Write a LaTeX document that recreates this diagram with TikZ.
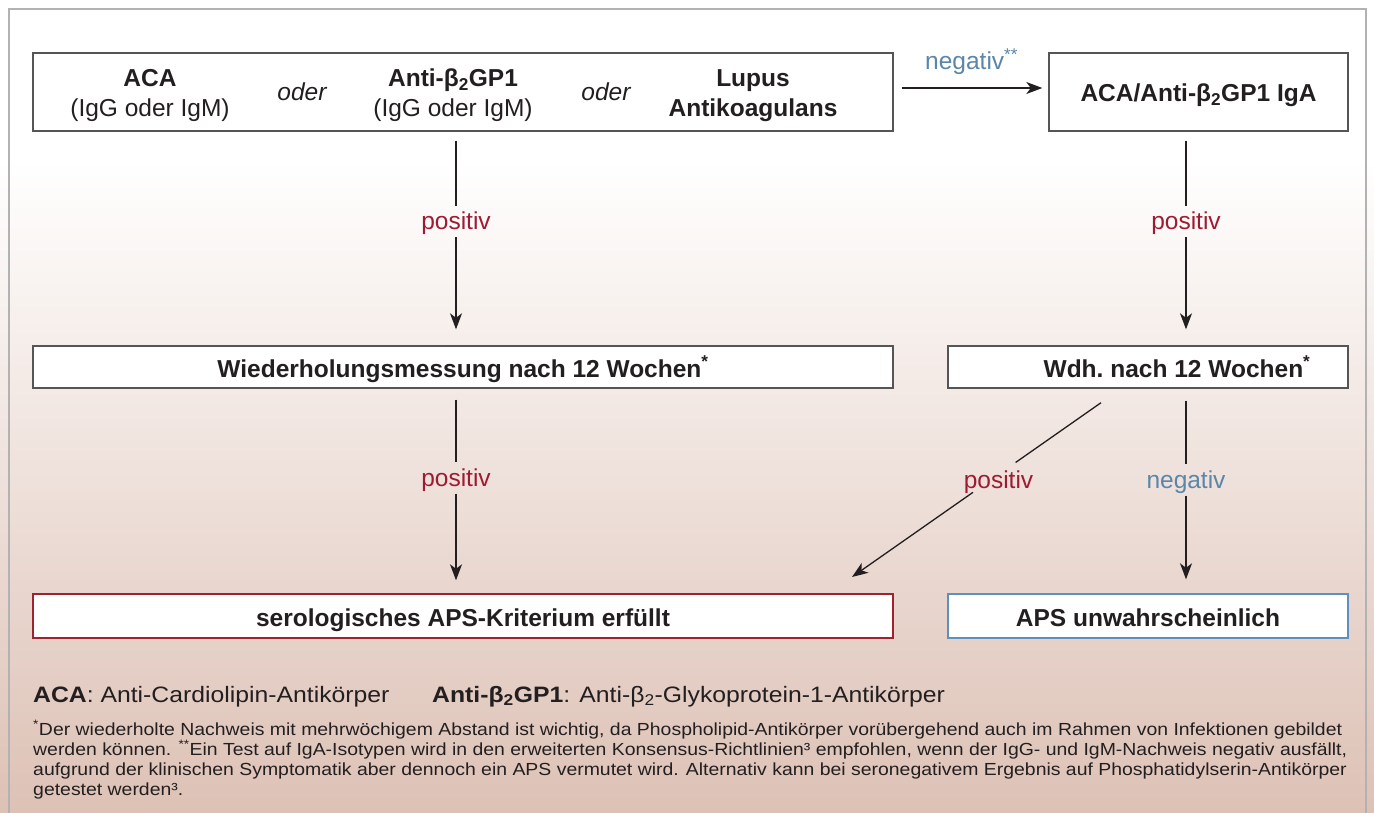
\documentclass[tikz,border=0pt]{standalone}
\usepackage{fontspec}
\setmainfont{Liberation Sans}
\newfontfamily\notefont[FakeStretch=1.11]{Liberation Sans}
\usetikzlibrary{arrows.meta,calc}
\definecolor{posred}{RGB}{158,27,50}
\definecolor{negblue}{RGB}{91,134,168}
\definecolor{boxgray}{RGB}{85,85,85}
\definecolor{framegray}{RGB}{178,178,178}
\definecolor{bgpink}{RGB}{221,193,181}
\definecolor{redborder}{RGB}{160,34,46}
\definecolor{blueborder}{RGB}{95,143,191}
\definecolor{ink}{RGB}{35,31,32}
\begin{document}
\begin{tikzpicture}[x=1pt,y=-1pt,
  every node/.style={text=ink},
  box/.style={draw=boxgray, line width=1.4pt, fill=white, inner sep=0pt,
    text height=20pt, text depth=0pt,
    font=\fontsize{24.5}{29}\selectfont\bfseries},
  boxtxt/.style={anchor=base, inner sep=0pt, font=\fontsize{24.5}{29}\selectfont},
  lab/.style={inner sep=0pt, minimum height=31pt, text height=19pt, text depth=2pt,
    font=\fontsize{24.5}{29}\selectfont},
  poslab/.style={lab, text=posred},
  neglab/.style={lab, text=negblue},
  arr/.style={-{Stealth[length=16pt,width=12pt,inset=4.5pt]}, line width=1.3pt, draw=ink},
  seg/.style={line width=2.8pt, draw=ink},
  thinseg/.style={line width=1.3pt, draw=ink},
  legend/.style={anchor=base west, inner sep=0pt, font=\notefont\fontsize{22.3}{26}\selectfont},
  note/.style={anchor=base west, inner sep=0pt, font=\notefont\fontsize{17.5}{20}\selectfont}
]
\useasboundingbox (0,0) rectangle (1374,813);
% background
\fill[white] (0,0) rectangle (1374,160);
\shade[top color=white, bottom color=bgpink] (0,160) rectangle (1374,813);
\draw[framegray, line width=2pt] (9,813) -- (9,9) -- (1366,9) -- (1366,813);

% boxes
\node[box, minimum width=860pt, minimum height=78pt] (b1) at (463,92) {};
\node[box, minimum width=299pt, minimum height=78pt] (b2) at (1198.5,92) {ACA/Anti-β\textsubscript{2}GP1 IgA};
\node[box, minimum width=860pt, minimum height=42pt] (b3) at (463,367) {Wiederholungsmessung nach 12 Wochen\textsuperscript{*}};
\node[box, minimum width=400pt, minimum height=42pt] (b4) at (1148,367) {\hspace*{58pt}Wdh.\ nach 12 Wochen\textsuperscript{*}};
\node[box, draw=redborder, minimum width=860pt, minimum height=44pt] (b5) at (463,616) {serologisches APS-Kriterium erfüllt};
\node[box, draw=blueborder, minimum width=400pt, minimum height=44pt] (b6) at (1148,616) {APS unwahrscheinlich};

% texts inside first box
\node[boxtxt, font=\fontsize{24.5}{29}\selectfont\bfseries] (t1a) at (150,87) {ACA};
\node[boxtxt] (t1b) at (150,117) {(IgG oder IgM)};
\node[boxtxt, font=\fontsize{24.5}{29}\selectfont\itshape] (o1) at (302,101) {oder};
\node[boxtxt, font=\fontsize{24.5}{29}\selectfont\bfseries] (t2a) at (453,87) {Anti-β\textsubscript{2}GP1};
\node[boxtxt] (t2b) at (453,117) {(IgG oder IgM)};
\node[boxtxt, font=\fontsize{24.5}{29}\selectfont\itshape] (o2) at (606,101) {oder};
\node[boxtxt, font=\fontsize{24.5}{29}\selectfont\bfseries] (t3a) at (753,87) {Lupus};
\node[boxtxt, font=\fontsize{24.5}{29}\selectfont\bfseries] (t3b) at (753,117) {Antikoagulans};

% labels
\node[poslab] (p1) at (456,221.5) {positiv};
\node[poslab] (p2) at (1186,221.5) {positiv};
\node[poslab] (p3) at (456,478) {positiv};
\node[poslab] (p4) at (998.5,479.5) {positiv};
\node[neglab] (n4) at (1186,480) {negativ};
\node[anchor=base west, inner sep=0pt, text=negblue, font=\fontsize{24.5}{29}\selectfont] (n1) at (925,70) {negativ\textsuperscript{**}};

% connectors
\draw[arr, shorten <=8pt, shorten >=6pt] ([yshift=4pt]b1.east) -- ([yshift=4pt]b2.west);

\draw[seg, shorten <=9pt] (b1.south -| p1.north) -- (p1.north);
\draw[arr, shorten >=16pt] (p1.south) -- (p1.south |- b3.north);
\draw[seg, shorten <=9pt] (b2.south -| p2.north) -- (p2.north);
\draw[arr, shorten >=16pt] (p2.south) -- (p2.south |- b4.north);

\draw[seg, shorten <=11pt] (b3.south -| p3.north) -- (p3.north);
\draw[arr, shorten >=13pt] (p3.south) -- (p3.south |- b5.north);
\draw[seg, shorten <=12pt] (b4.south -| n4.north) -- (n4.north);
\draw[arr, shorten >=14pt] (n4.south) -- (n4.south |- b6.north);

\coordinate (d1) at ($(b4.south)+(-47,14)$);
\coordinate (d2) at (852,577);
\path (d1) -- (d2) coordinate[pos=0.343] (g1) coordinate[pos=0.514] (g2);
\draw[thinseg] (d1) -- (g1);
\draw[arr] (g2) -- (d2);

% legend
\node[legend] (lg1) at (33,702) {\textbf{ACA}: Anti-Cardiolipin-Antikörper};
\node[legend] (lg2) at (432,702) {\textbf{Anti-β\textsubscript{2}GP1}: Anti-β\textsubscript{2}-Glykoprotein-1-Antikörper};

% footnotes
\node[note] (f1) at (33,735) {\textsuperscript{*}Der wiederholte Nachweis mit mehrwöchigem Abstand ist wichtig, da Phospholipid-Antikörper vorübergehend auch im Rahmen von Infektionen gebildet};
\node[note] (f2) at (33,755) {werden können. \textsuperscript{**}Ein Test auf IgA-Isotypen wird in den erweiterten Konsensus-Richtlinien³ empfohlen, wenn der IgG- und IgM-Nachweis negativ ausfällt,};
\node[note] (f3) at (33,775) {aufgrund der klinischen Symptomatik aber dennoch ein APS vermutet wird. Alternativ kann bei seronegativem Ergebnis auf Phosphatidylserin-Antikörper};
\node[note] (f4) at (33,795) {getestet werden³.};
\end{tikzpicture}
\end{document}
